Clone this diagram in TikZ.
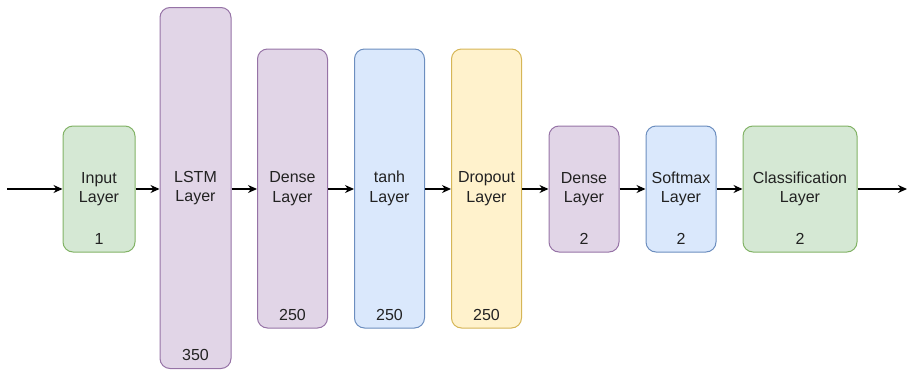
\documentclass[tikz,border=0pt]{standalone}
\usepackage{fontspec}
\setmainfont{Liberation Sans}
\usetikzlibrary{arrows.meta}
\definecolor{gfill}{HTML}{D5E8D4}\definecolor{gdraw}{HTML}{82B366}
\definecolor{pfill}{HTML}{E1D5E7}\definecolor{pdraw}{HTML}{9673A6}
\definecolor{bfill}{HTML}{DAE8FC}\definecolor{bdraw}{HTML}{6C8EBF}
\definecolor{yfill}{HTML}{FFF2CC}\definecolor{ydraw}{HTML}{D6B656}
\definecolor{txt}{HTML}{222222}
\begin{document}
\begin{tikzpicture}[x=1pt,y=-1pt,
  layer/.style={rounded corners=10pt, line width=1pt, inner sep=0pt, align=center,
    text=txt, font=\fontsize{16}{19.5}\selectfont},
  green/.style={fill=gfill, draw=gdraw},
  purple/.style={fill=pfill, draw=pdraw},
  blue/.style={fill=bfill, draw=bdraw},
  yellow/.style={fill=yfill, draw=ydraw},
  num/.style={text=txt, font=\fontsize{16}{19}\selectfont, inner sep=0pt},
  conn/.style={line width=1.4pt, -{Stealth[length=9pt,width=8pt]}}]
\useasboundingbox (0,0) rectangle (908,370);
\newcommand{\layerbox}[8]{%
  \node[layer,#2, minimum width=#5pt, minimum height=#6pt] (#1) at (#3,#4) {#7};
  \node[num] (#1n) at ([yshift=14pt]#1.south) {#8};}
\layerbox{inp}{green}{99}{189}{72}{126}{Input\\Layer}{1}
\layerbox{lstm}{purple}{195.5}{188}{71}{361}{LSTM\\Layer}{350}
\layerbox{dense}{purple}{292.5}{188.5}{70}{279}{Dense\\Layer}{250}
\layerbox{tanh}{blue}{389.5}{188.5}{70}{279}{tanh\\Layer}{250}
\layerbox{drop}{yellow}{486.5}{188.5}{70}{279}{Dropout\\Layer}{250}
\layerbox{dense2}{purple}{584}{189}{70}{126}{Dense\\Layer}{2}
\layerbox{soft}{blue}{681}{189}{70}{126}{Softmax\\Layer}{2}
\layerbox{cls}{green}{800}{189}{114}{126}{Classification\\Layer}{2}
\coordinate (start) at (7,189);
\coordinate (end) at (907,189);
\draw[conn] (start) -- (inp.west |- start);
\draw[conn] (inp.east |- start) -- (lstm.west |- start);
\draw[conn] (lstm.east |- start) -- (dense.west |- start);
\draw[conn] (dense.east |- start) -- (tanh.west |- start);
\draw[conn] (tanh.east |- start) -- (drop.west |- start);
\draw[conn] (drop.east |- start) -- (dense2.west |- start);
\draw[conn] (dense2.east |- start) -- (soft.west |- start);
\draw[conn] (soft.east |- start) -- (cls.west |- start);
\draw[conn] (cls.east |- start) -- (end);
\end{tikzpicture}
\end{document}
